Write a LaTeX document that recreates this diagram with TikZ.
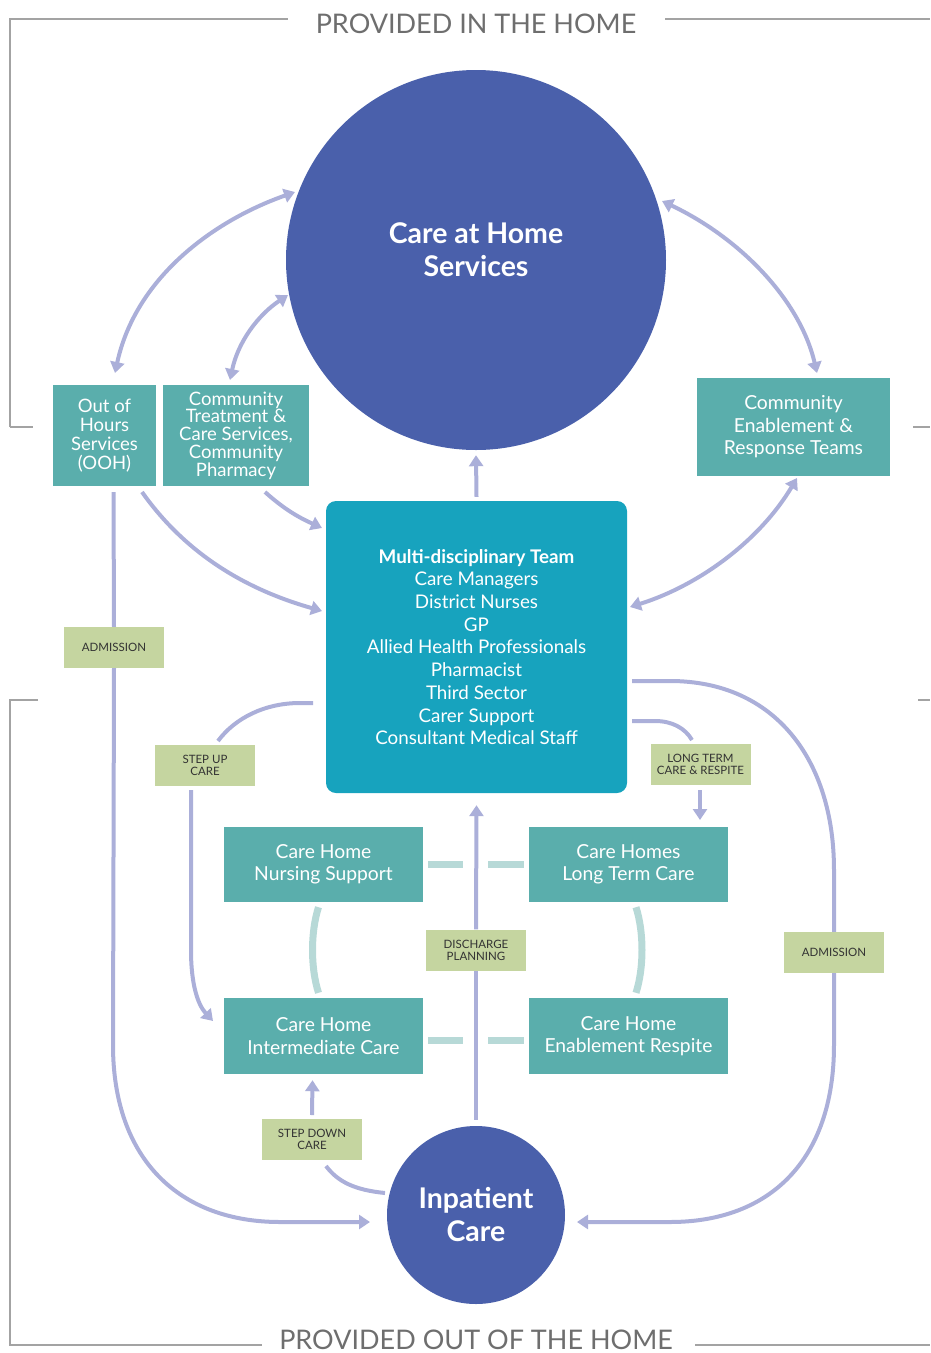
\documentclass[tikz,border=0pt]{standalone}
\usepackage{fontspec}
\setmainfont{Lato}
\usetikzlibrary{%
  arrows.meta,%
  calc%
}
\definecolor{homeblue}{HTML}{4A60AB}
\definecolor{mdtblue}{HTML}{17A3BE}
\definecolor{careteal}{HTML}{5AAEAC}
\definecolor{linkteal}{HTML}{B7D9D7}
\definecolor{taggreen}{HTML}{C5D5A0}
\definecolor{flowlilac}{HTML}{ABAFD9}
\definecolor{framegrey}{HTML}{A3A3A3}
\definecolor{titlegrey}{HTML}{6E6E6E}
\tikzset{>={Triangle[length=11pt,width=14pt]}}

\begin{document}
\begin{tikzpicture}[x=1pt,y=-1pt,
    servicebox/.style={fill=careteal,text=white,align=center,inner sep=0pt,
      font=\fontsize{19.3}{22.5}\selectfont},
    tagbox/.style={fill=taggreen,text=black!80,align=center,inner sep=0pt,
      minimum width=100pt,minimum height=41pt,font=\fontsize{11.5}{12}\selectfont},
    hub/.style={circle,fill=homeblue,text=white,align=center,inner sep=0pt,
      font=\bfseries\fontsize{28.5}{33}\selectfont},
    flow/.style={draw=flowlilac,line width=4pt},
    link/.style={draw=linkteal,line width=7pt},
    frame/.style={draw=framegrey,line width=1.3pt},
    title/.style={text=titlegrey,font=\fontsize{27}{30}\selectfont}]
  \useasboundingbox (0,0) rectangle (930,1353);

  % outer frames
  \draw[frame] (10,427) -- (10,19) -- (288,19) (665,19) -- (930,19)
    (10,427) -- (33,427) (913,427) -- (930,427);
  \draw[frame] (38,700) -- (10,700) -- (10,1345) -- (262,1345)
    (695,1345) -- (930,1345) (918,700) -- (930,700);
  \node[title] (inhome) at (476,24) {PROVIDED IN THE HOME};
  \node[title] (outhome) at (476,1340) {PROVIDED OUT OF THE HOME};

  % hubs
  \node[hub,minimum size=380pt] (home) at (476,260) {};
  \node[text=white,align=center,font=\bfseries\fontsize{28.5}{33}\selectfont]
    (homelabel) at ($(home.center)+(0,-10)$) {Care at Home\\Services};
  \node[hub,minimum size=178pt] (inpatient) at (476,1215) {Inpatient\\Care};

  % services
  \node[servicebox,minimum width=103pt,minimum height=101pt,
    font=\fontsize{18.5}{19}\selectfont] (ooh) at (104.5,435.5)
    {Out of\\Hours\\Services\\(OOH)};
  \node[servicebox,minimum width=146pt,minimum height=101pt,
    font=\fontsize{18.5}{17.8}\selectfont] (commtreat) at (236,435.5)
    {Community\\Treatment \&\\Care Services,\\Community\\Pharmacy};
  \node[servicebox,minimum width=193pt,minimum height=98pt] (commenable)
    at (793.5,427) {Community\\Enablement \&\\Response Teams};
  \node[fill=mdtblue,rounded corners=10pt,text=white,align=center,
    minimum width=301pt,minimum height=292pt,inner sep=0pt,
    font=\fontsize{18.8}{22.7}\selectfont] (mdt) at (476.5,647)
    {\textbf{Multi-disciplinary Team}\\Care Managers\\District Nurses\\GP\\
     Allied Health Professionals\\Pharmacist\\Third Sector\\Carer Support\\
     Consultant Medical Staff};

  % care homes
  \node[servicebox,minimum width=199pt,minimum height=75pt] (nursing)
    at (323.5,864.5) {Care Home\\Nursing Support};
  \node[servicebox,minimum width=199pt,minimum height=75pt] (longterm)
    at (628.5,864.5) {Care Homes\\Long Term Care};
  \node[servicebox,minimum width=199pt,minimum height=76pt] (intermediate)
    at (323.5,1036) {Care Home\\Intermediate Care};
  \node[servicebox,minimum width=199pt,minimum height=76pt] (respite)
    at (628.5,1036) {Care Home\\Enablement Respite};

  % tags
  \node[tagbox] (admitleft) at (114,647.5) {ADMISSION};
  \node[tagbox] (stepup) at (205,765.5) {STEP UP\\CARE};
  \node[tagbox] (longcare) at (700.5,764.5) {LONG TERM\\CARE \& RESPITE};
  \node[tagbox] (discharge) at (476,950) {DISCHARGE\\PLANNING};
  \node[tagbox] (admitright) at (834,952.5) {ADMISSION};
  \node[tagbox] (stepdown) at (312,1139.5) {STEP DOWN\\CARE};

  % links between care homes
  \draw[link] ($(nursing.east)+(5,0)$) -- +(35,0) ($(longterm.west)+(-5,0)$) -- +(-36,0);
  \draw[link] ($(intermediate.east)+(5,4)$) -- +(35,0) ($(respite.west)+(-5,4)$) -- +(-36,0);
  \draw[link] ($(nursing.south)+(-5,5)$) .. controls +(-8,25) and +(-8,-25) .. ($(intermediate.north)+(-5,-5)$);
  \draw[link] ($(longterm.south)+(7.5,5)$) .. controls +(8,25) and +(8,-25) .. ($(respite.north)+(7.5,-5)$);

  % flows around the home
  \draw[flow,<->] (115,373) .. controls (135,280) and (210,222) .. (295,192);
  \draw[flow,<->] (230,380) .. controls (238,342) and (258,315) .. (288,295);
  \draw[flow,<->] (662,201) .. controls (740,238) and (800,300) .. (817,373);
  \draw[flow,<->] (797,478) .. controls (760,540) and (700,585) .. (630,607);
  \draw[flow,->] ($(mdt.north)+(0,-4)$) -- ($(home.south)+(0,5)$);
  \draw[flow,->] (142,492) .. controls (190,560) and (255,592) .. (322,611);
  \draw[flow,->] (265,492) .. controls (285,510) and (300,518) .. (322,528);

  % admissions
  \draw[flow] ($(ooh.south)+(9,6)$) -- (admitleft.north);
  \draw[flow,->] (admitleft.south) -- (113,1045)
    .. controls (113,1160) and (180,1222) .. (280,1222) -- (370,1222);
  \draw[flow] (632,681) -- (670,681) .. controls (775,681) and (834,760)
    .. (834,870) -- (admitright.north);
  \draw[flow,->] (admitright.south) -- (834,1045)
    .. controls (834,1160) and (770,1222) .. (670,1222) -- (577,1222);

  % step up, long term, discharge, step down
  \draw[flow] (313,703) -- (300,703) .. controls (265,703) and (235,718) .. (218,741);
  \draw[flow,->] (191,790) -- (191,950) .. controls (191,985) and (198,1005) .. (213,1021);
  \draw[flow] (632,721) -- (655,721) .. controls (672,721) and (685,728) .. (692,740);
  \draw[flow,->] (700,790) -- (700,820);
  \draw[flow] ($(inpatient.north)+(0,-6)$) -- (discharge.south);
  \draw[flow,->] (discharge.north) -- ($(mdt.south)+(0,12)$);
  \draw[flow] (385,1193) .. controls (355,1190) and (338,1182) .. (326,1166);
  \draw[flow,->] (312,1115) -- ($(intermediate.south)+(-11,6)$);
\end{tikzpicture}
\end{document}
